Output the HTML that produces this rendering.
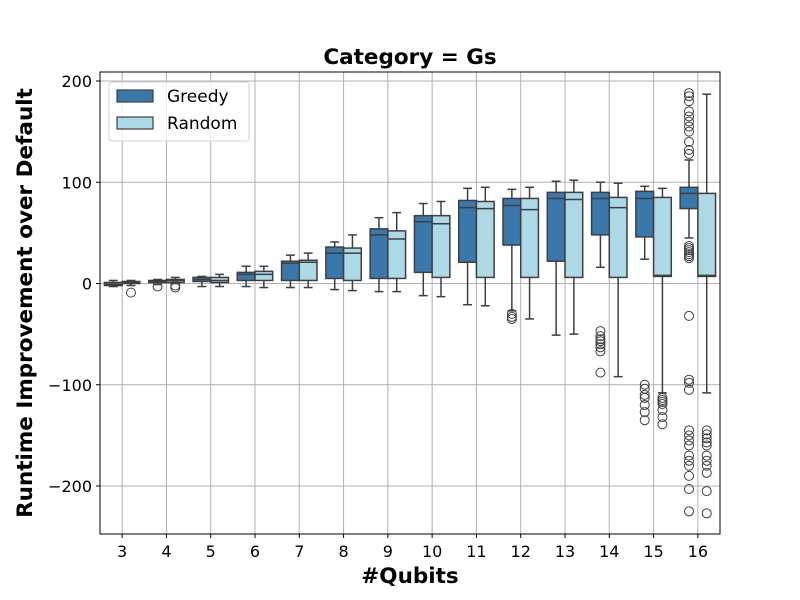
<!DOCTYPE html>
<html><head><meta charset="utf-8"><style>
body{margin:0;background:#fff}
svg{display:block;font-family:"DejaVu Sans","Liberation Sans",sans-serif}
</style></head><body>
<svg id="chart" width="800" height="600" xmlns="http://www.w3.org/2000/svg"></svg>
<script>
const categories = ["3","4","5","6","7","8","9","10","11","12","13","14","15","16"];
const seriesNames = ["Greedy","Random"];
// [whiskerLow, q1, median, q3, whiskerHigh]
const greedyStats = [
 [-3,-2,-1,1,3],[-1,1,2,3,4],[-3,2,4,6,7],[-3,3,9,11,17],[-4,3,20,22,28],
 [-6,5,30,36,41],[-8,5,48,54,65],[-12,11,61,67,79],[-21,21,75,82,94],
 [-27,38,77,84,93],[-51,22,84,90,101],[16,48,84,90,100],[24,46,84,91,96],[45,74,89,95,122]];
const randomStats = [
 [-2,0,1,2,3],[0,1,3,4,6],[-3,1,3,6,9],[-4,3,9,12,17],[-4,3,21,23,30],
 [-7,3,30,35,48],[-8,5,44,52,70],[-13,6,59,67,81],[-22,6,74,81,95],
 [-35,6,73,84,95],[-50,6,83,90,102],[-92,6,75,85,99],[-108,7,8,85,94],[-108,7,8,89,187]];
const greedyOutliers = [[],[-3],[],[],[],[],[],[],[],[-30,-33,-35],[],
 [-47,-52,-55,-57,-60,-63,-67,-88],[-100,-104,-110,-113,-120,-127,-135],
 [188,185,180,170,165,160,155,150,140,132,128,37,35,33,31,29,27,25,-32,-95,-98,-105,-145,-150,-155,-160,-170,-175,-180,-190,-203,-225]];
const randomOutliers = [[-9],[-2,-4],[],[],[],[],[],[],[],[],[],[],
 [-113,-115,-117,-119,-125,-132,-139],
 [-145,-149,-153,-157,-160,-170,-175,-180,-187,-205,-227]];
const yTicks = [-200,-100,0,100,200];

const svg=document.getElementById('chart');
const NS='http://www.w3.org/2000/svg';
const L=100,R=720,T=72,B=534;
const yScale=v=>283.5-v*1.0125;
const step=(R-L)/categories.length;
const xScale=i=>L+step*(i+0.5);
function mk(tag,attrs,parent){const e=document.createElementNS(NS,tag);for(const k in attrs)e.setAttribute(k,attrs[k]);(parent||svg).appendChild(e);return e;}

categories.forEach((c,i)=>{const l=mk('line',{x1:xScale(i),x2:xScale(i),y1:T,y2:B,stroke:'#b0b0b0','stroke-width':1});

});
yTicks.forEach(v=>{const l=mk('line',{x1:L,x2:R,y1:yScale(v),y2:yScale(v),stroke:'#b0b0b0','stroke-width':1});

});

const colors=['#3a78ab','#add8e6'];
const edge='#3f3f3f';
const bw=step*0.4;
[greedyStats,randomStats].forEach((stats,s)=>{
 const outs=s===0?greedyOutliers:randomOutliers;
 stats.forEach((st,i)=>{
  const g=mk('g',{});
  
  
  const x0=xScale(i)-step*0.4+s*bw, cx=x0+bw/2;
  mk('line',{x1:cx,x2:cx,y1:yScale(st[0]),y2:yScale(st[1]),stroke:edge,'stroke-width':1.5},g);
  mk('line',{x1:cx,x2:cx,y1:yScale(st[3]),y2:yScale(st[4]),stroke:edge,'stroke-width':1.5},g);
  mk('line',{x1:cx-bw/4,x2:cx+bw/4,y1:yScale(st[0]),y2:yScale(st[0]),stroke:edge,'stroke-width':1.5},g);
  mk('line',{x1:cx-bw/4,x2:cx+bw/4,y1:yScale(st[4]),y2:yScale(st[4]),stroke:edge,'stroke-width':1.5},g);
  mk('rect',{x:x0,y:yScale(st[3]),width:bw,height:Math.max(1,yScale(st[1])-yScale(st[3])),fill:colors[s],stroke:edge,'stroke-width':1.5},g);
  mk('line',{x1:x0,x2:x0+bw,y1:yScale(st[2]),y2:yScale(st[2]),stroke:edge,'stroke-width':1.5},g);
  outs[i].forEach(v=>{mk('circle',{cx:cx,cy:yScale(v),r:4.5,fill:'none',stroke:edge,'stroke-width':1},g);});
 });
});

const fr=mk('rect',{x:L,y:T,width:R-L,height:B-T,fill:'none',stroke:'#000','stroke-width':1});


yTicks.forEach(v=>{
 mk('line',{x1:L-4,x2:L,y1:yScale(v),y2:yScale(v),stroke:'#000'});
 const t=mk('text',{x:L-8,y:yScale(v)+6,'text-anchor':'end','font-size':16});
 t.textContent=(v<0?'\u2212'+(-v):v);
 
 
});
categories.forEach((c,i)=>{
 mk('line',{x1:xScale(i),x2:xScale(i),y1:B,y2:B+4,stroke:'#000'});
 const t=mk('text',{x:xScale(i),y:B+23,'text-anchor':'middle','font-size':16});
 t.textContent=c;
 
 
});
</script>
<div style="position:absolute;left:0;top:0;width:800px;height:600px;pointer-events:none">
<svg width="800" height="600" style="font-family:'DejaVu Sans','Liberation Sans',sans-serif">
<text x="410" y="64" text-anchor="middle" font-size="21.5" font-weight="bold">Category = Gs</text>
<text x="410" y="583" text-anchor="middle" font-size="21.5" font-weight="bold">#Qubits</text>
<text transform="translate(32,303) rotate(-90)" text-anchor="middle" font-size="21.5" font-weight="bold">Runtime Improvement over Default</text>
<g>
<rect x="109" y="82" width="140" height="59" rx="3" fill="#fff" fill-opacity="0.8" stroke="#d0d0d0"/>
<rect x="117" y="90" width="36" height="12" fill="#3a78ab" stroke="#3f3f3f" stroke-width="1.2"/>
<text x="167" y="102" font-size="17">Greedy</text>
<rect x="117" y="117" width="36" height="12" fill="#add8e6" stroke="#3f3f3f" stroke-width="1.2"/>
<text x="167" y="129" font-size="17">Random</text>
</g>
</svg></div>
</body></html>
